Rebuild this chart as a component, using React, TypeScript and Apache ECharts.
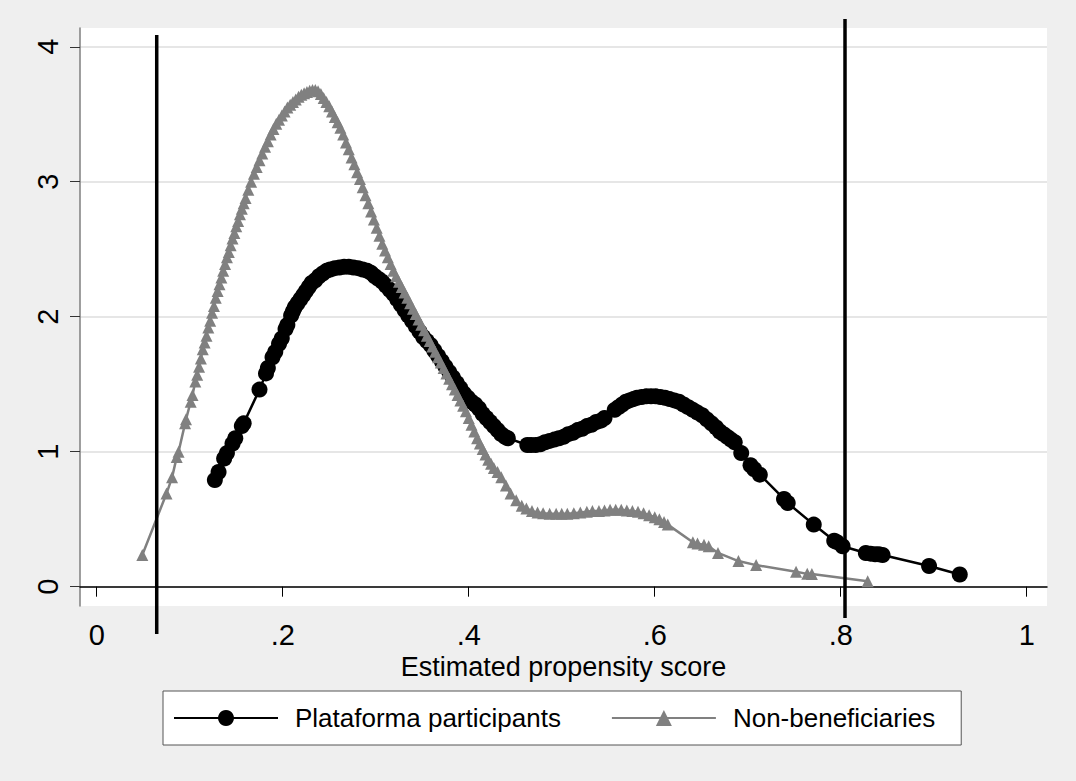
import React, { useEffect, useRef } from "react";
import * as echarts from "echarts";

// Tick values and labels
const xTicks = [0, 0.2, 0.4, 0.6, 0.8, 1];
const xTickLabels = ["0", ".2", ".4", ".6", ".8", "1"];
const yTicks = [0, 1, 2, 3, 4];
const yTickLabels = ["0", "1", "2", "3", "4"];

// Common support cut-offs (vertical lines)
const cutoffs = [0.0645, 0.8046];

const seriesNames = ["Plataforma participants", "Non-beneficiaries"];

// Plataforma participants density (x, y)
const plataformaPoints: [number, number][] = [
  [0.127, 0.79], [0.131, 0.85], [0.137, 0.95], [0.14, 0.99], [0.146, 1.06], [0.149, 1.1],
  [0.156, 1.19], [0.158, 1.21], [0.175, 1.46], [0.182, 1.58], [0.184, 1.62], [0.189, 1.7],
  [0.192, 1.74], [0.196, 1.8], [0.199, 1.84], [0.203, 1.91], [0.205, 1.94], [0.209, 2.01],
  [0.211, 2.04], [0.213, 2.07], [0.216, 2.1], [0.219, 2.13], [0.222, 2.16], [0.225, 2.19],
  [0.228, 2.22], [0.231, 2.25], [0.235, 2.27], [0.239, 2.3], [0.243, 2.32], [0.247, 2.34],
  [0.251, 2.35], [0.256, 2.36], [0.261, 2.365], [0.266, 2.37], [0.271, 2.37], [0.276, 2.365],
  [0.281, 2.36], [0.286, 2.35], [0.291, 2.34], [0.295, 2.325], [0.299, 2.3], [0.303, 2.28],
  [0.307, 2.26], [0.311, 2.23], [0.315, 2.2], [0.319, 2.17], [0.323, 2.13], [0.327, 2.09],
  [0.331, 2.05], [0.335, 2.01], [0.339, 1.97], [0.343, 1.93], [0.347, 1.89], [0.351, 1.85],
  [0.355, 1.82], [0.359, 1.79], [0.363, 1.75], [0.367, 1.71], [0.371, 1.67], [0.375, 1.63],
  [0.379, 1.59], [0.383, 1.55], [0.387, 1.51], [0.391, 1.47], [0.395, 1.43], [0.399, 1.4],
  [0.403, 1.37], [0.407, 1.35], [0.411, 1.32], [0.415, 1.28], [0.419, 1.25], [0.423, 1.22],
  [0.427, 1.19], [0.431, 1.16], [0.435, 1.13], [0.439, 1.11], [0.442, 1.1], [0.463, 1.05],
  [0.467, 1.05], [0.472, 1.05], [0.477, 1.055], [0.482, 1.07], [0.487, 1.08], [0.492, 1.09],
  [0.497, 1.1], [0.502, 1.11], [0.507, 1.13], [0.512, 1.14], [0.517, 1.16], [0.522, 1.17],
  [0.527, 1.19], [0.532, 1.2], [0.537, 1.22], [0.542, 1.23], [0.546, 1.25], [0.557, 1.31],
  [0.561, 1.33], [0.565, 1.35], [0.569, 1.37], [0.573, 1.38], [0.577, 1.39], [0.581, 1.4],
  [0.586, 1.405], [0.591, 1.41], [0.596, 1.41], [0.601, 1.41], [0.606, 1.405], [0.611, 1.4],
  [0.616, 1.39], [0.621, 1.38], [0.626, 1.37], [0.631, 1.35], [0.636, 1.33], [0.641, 1.31],
  [0.646, 1.29], [0.651, 1.27], [0.656, 1.24], [0.661, 1.21], [0.666, 1.18], [0.67, 1.15],
  [0.674, 1.13], [0.678, 1.11], [0.682, 1.09], [0.686, 1.07], [0.693, 0.99], [0.703, 0.9],
  [0.707, 0.87], [0.713, 0.83], [0.739, 0.65], [0.743, 0.62], [0.771, 0.46], [0.793, 0.34],
  [0.796, 0.33], [0.802, 0.3], [0.827, 0.25], [0.832, 0.245], [0.837, 0.24], [0.841, 0.24],
  [0.845, 0.235], [0.895, 0.153], [0.928, 0.09],
];

// Non-beneficiaries density (x, y)
const nonBeneficiaryPoints: [number, number][] = [
  [0.049, 0.235], [0.075, 0.69], [0.081, 0.81], [0.086, 0.96], [0.088, 1.0], [0.095, 1.21],
  [0.096, 1.24], [0.101, 1.37], [0.103, 1.42], [0.106, 1.52], [0.108, 1.57], [0.11, 1.63],
  [0.112, 1.69], [0.114, 1.76], [0.116, 1.81], [0.118, 1.86], [0.12, 1.92], [0.122, 1.97],
  [0.124, 2.03], [0.126, 2.08], [0.128, 2.14], [0.13, 2.19], [0.132, 2.24], [0.134, 2.29],
  [0.136, 2.34], [0.138, 2.39], [0.14, 2.44], [0.142, 2.48], [0.144, 2.53], [0.146, 2.58],
  [0.148, 2.62], [0.15, 2.67], [0.152, 2.71], [0.154, 2.76], [0.156, 2.8], [0.158, 2.84],
  [0.16, 2.88], [0.163, 2.94], [0.166, 3.0], [0.169, 3.06], [0.172, 3.11], [0.175, 3.16],
  [0.178, 3.21], [0.181, 3.26], [0.184, 3.3], [0.187, 3.35], [0.19, 3.39], [0.193, 3.43],
  [0.196, 3.46], [0.199, 3.49], [0.202, 3.52], [0.205, 3.55], [0.208, 3.57], [0.211, 3.59],
  [0.214, 3.61], [0.217, 3.63], [0.22, 3.645], [0.223, 3.655], [0.226, 3.665], [0.229, 3.675],
  [0.232, 3.68], [0.235, 3.68], [0.238, 3.67], [0.241, 3.65], [0.244, 3.62], [0.247, 3.59],
  [0.25, 3.56], [0.253, 3.52], [0.256, 3.48], [0.259, 3.44], [0.262, 3.4], [0.265, 3.35],
  [0.268, 3.29], [0.271, 3.24], [0.274, 3.18], [0.277, 3.13], [0.28, 3.07], [0.283, 3.02],
  [0.286, 2.96], [0.289, 2.9], [0.292, 2.84], [0.295, 2.78], [0.298, 2.72], [0.301, 2.66],
  [0.304, 2.6], [0.307, 2.54], [0.31, 2.49], [0.313, 2.44], [0.316, 2.39], [0.319, 2.34],
  [0.322, 2.3], [0.325, 2.26], [0.328, 2.22], [0.331, 2.18], [0.334, 2.14], [0.337, 2.1],
  [0.34, 2.06], [0.343, 2.02], [0.346, 1.98], [0.349, 1.94], [0.352, 1.9], [0.355, 1.86],
  [0.358, 1.82], [0.361, 1.78], [0.364, 1.74], [0.367, 1.7], [0.37, 1.66], [0.373, 1.62],
  [0.376, 1.58], [0.379, 1.54], [0.382, 1.5], [0.385, 1.46], [0.388, 1.42], [0.391, 1.38],
  [0.394, 1.34], [0.397, 1.3], [0.4, 1.25], [0.403, 1.2], [0.406, 1.15], [0.409, 1.1],
  [0.412, 1.06], [0.415, 1.02], [0.418, 0.98], [0.421, 0.94], [0.424, 0.91], [0.427, 0.88],
  [0.431, 0.85], [0.435, 0.81], [0.44, 0.75], [0.445, 0.69], [0.451, 0.64], [0.457, 0.6],
  [0.462, 0.58], [0.468, 0.56], [0.474, 0.55], [0.48, 0.545], [0.487, 0.54], [0.494, 0.54],
  [0.5, 0.54], [0.506, 0.54], [0.513, 0.545], [0.52, 0.55], [0.527, 0.555], [0.533, 0.56],
  [0.54, 0.56], [0.546, 0.565], [0.552, 0.57], [0.558, 0.57], [0.564, 0.57], [0.57, 0.565],
  [0.576, 0.56], [0.582, 0.555], [0.588, 0.545], [0.594, 0.53], [0.6, 0.515], [0.605, 0.5],
  [0.61, 0.48], [0.614, 0.46], [0.641, 0.33], [0.646, 0.32], [0.653, 0.31], [0.658, 0.3],
  [0.668, 0.25], [0.69, 0.19], [0.709, 0.16], [0.752, 0.11], [0.764, 0.095], [0.769, 0.094],
  [0.829, 0.04],
];

const FONT = "'Liberation Sans', Arial, Helvetica, sans-serif";

export default function App() {
  const ref = useRef<HTMLDivElement>(null);

  useEffect(() => {
    if (!ref.current) return;
    const chart = echarts.init(ref.current, undefined, { renderer: "svg" });
    const option: any = {
      animation: false,
      backgroundColor: "#efefef",
      textStyle: { fontFamily: FONT, color: "#000" },
      grid: {
        left: 80,
        top: 28,
        right: 29,
        bottom: 175,
        show: true,
        backgroundColor: "#ffffff",
        borderWidth: 0,
        containLabel: false,
      },
      xAxis: {
        type: "value",
        min: -0.018,
        max: 1.0218,
        name: "Estimated propensity score",
        nameLocation: "middle",
        nameGap: 43,
        nameTextStyle: { fontSize: 27, color: "#000", fontFamily: FONT },
        axisLine: { show: true, lineStyle: { color: "#000", width: 1.5 } },
        axisTick: { show: true, length: 10, lineStyle: { color: "#000", width: 1 }, customValues: xTicks },
        axisLabel: {
          show: true,
          fontSize: 29,
          color: "#000",
          fontFamily: FONT,
          margin: 14,
          customValues: xTicks,
          formatter: (v: number) => {
            const i = xTicks.findIndex((t) => Math.abs(t - v) < 1e-6);
            return i >= 0 ? xTickLabels[i] : "";
          },
        },
        splitLine: { show: false },
      },
      yAxis: {
        type: "value",
        min: -0.143,
        max: 4.139,
        axisLine: { show: true, onZero: false, lineStyle: { color: "#7f7f7f", width: 1.5 } },
        axisTick: { show: true, length: 10, lineStyle: { color: "#333", width: 1 }, customValues: yTicks },
        axisLabel: {
          show: true,
          fontSize: 29,
          color: "#000",
          fontFamily: FONT,
          rotate: 90,
          margin: 18,
          customValues: yTicks,
          formatter: (v: number) => {
            const i = yTicks.findIndex((t) => Math.abs(t - v) < 1e-6);
            return i >= 0 ? yTickLabels[i] : "";
          },
        },
        splitLine: { show: true, lineStyle: { color: "#e6e6e6", width: 2 } },
      },
      legend: {
        show: true,
        left: 163,
        top: 691,
        orient: "horizontal",
        backgroundColor: "#ffffff",
        borderColor: "#555",
        borderWidth: 1,
        borderRadius: 0,
        padding: [14, 26, 14, 10],
        itemWidth: 104,
        itemHeight: 20,
        itemGap: 50,
        textStyle: { fontSize: 26, color: "#000", fontFamily: FONT, padding: [0, 0, 0, 12] },
        data: seriesNames,
      },
      series: [
        {
          type: "line",
          name: seriesNames[0],
          data: plataformaPoints,
          symbol: "circle",
          symbolSize: 16,
          showSymbol: true,
          itemStyle: { color: "#000" },
          lineStyle: { color: "#000", width: 2.5 },
          z: 3,
        },
        {
          type: "line",
          name: seriesNames[1],
          data: nonBeneficiaryPoints,
          symbol: "triangle",
          symbolSize: 12,
          showSymbol: true,
          itemStyle: { color: "#808080" },
          lineStyle: { color: "#808080", width: 2.5 },
          z: 4,
        },
      ],
    };
    chart.setOption(option);

    const lineExtents = [
      [35, 634],
      [19, 618],
    ];
    const graphics = cutoffs.map((c, i) => {
      const px = chart.convertToPixel({ xAxisIndex: 0 }, c) as number;
      return {
        type: "line",
        z: 100,
        shape: { x1: px, y1: lineExtents[i][0], x2: px, y2: lineExtents[i][1] },
        style: { stroke: "#000", lineWidth: 3.5 },
      };
    });
    chart.setOption({ graphic: graphics });

    return () => {
      chart.dispose();
    };
  }, []);

  return (
    <div
      ref={ref}
      style={{ position: "fixed", left: 0, top: 0, width: 1076, height: 781, background: "#efefef" }}
    />
  );
}
